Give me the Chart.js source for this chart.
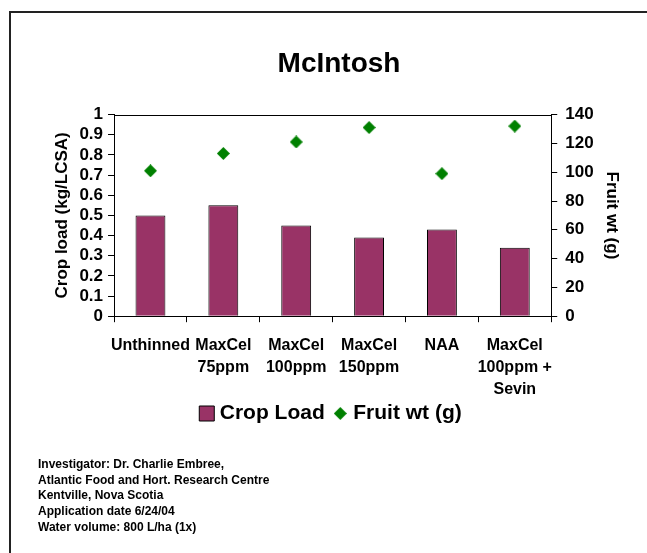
<!DOCTYPE html>
<html>
<head>
<meta charset="utf-8">
<script src="https://cdn.jsdelivr.net/npm/chart.js@4"></script>
<style>
  html, body { margin: 0; padding: 0; background: #fff; }
  body { width: 647px; height: 553px; position: relative; overflow: hidden; font-family: Arial, 'Liberation Sans', sans-serif; }
  #frame { position: absolute; left: 9px; top: 11px; right: -5px; bottom: -5px; border-left: 2px solid #222; border-top: 2px solid #222; }
  #wrap { position: absolute; left: 0; top: 0; width: 647px; height: 553px; }
  #notes { position: absolute; left: 38px; top: 457px; font-size: 12px; font-weight: bold; line-height: 15.7px; color: #000; }
</style>
</head>
<body>
<div id="frame"></div>
<div id="wrap"><canvas id="chart"></canvas></div>
<div id="notes">
  Investigator: Dr. Charlie Embree,<br>
  Atlantic Food and Hort. Research Centre<br>
  Kentville, Nova Scotia<br>
  Application date 6/24/04<br>
  Water volume: 800 L/ha (1x)
</div>
<script>
// Chart data
const treatments = [
    'Unthinned',
    ['MaxCel', '75ppm'],
    ['MaxCel', '100ppm'],
    ['MaxCel', '150ppm'],
    'NAA',
    ['MaxCel', '100ppm +', 'Sevin']
];
const cropLoad = [0.50, 0.55, 0.45, 0.39, 0.43, 0.34];
const fruitWt = [101, 113, 121, 131, 99, 132];
const cropTicks = [0, 0.1, 0.2, 0.3, 0.4, 0.5, 0.6, 0.7, 0.8, 0.9, 1];
const wtTicks = [0, 20, 40, 60, 80, 100, 120, 140];

const font = "Arial, 'Liberation Sans', sans-serif";

// Diamond marker drawn on a small canvas
const diamond = document.createElement('canvas');
diamond.width = 13;
diamond.height = 13;
(function () {
    const c = diamond.getContext('2d');
    c.fillStyle = '#008000';
    c.beginPath();
    c.moveTo(6.5, 0);
    c.lineTo(13, 6.5);
    c.lineTo(6.5, 13);
    c.lineTo(0, 6.5);
    c.closePath();
    c.fill();
})();

// top border of the plot area
const plotTop = {
    id: 'plotTop',
    afterDraw(chart) {
        const { ctx, chartArea } = chart;
        ctx.save();
        ctx.strokeStyle = '#000';
        ctx.lineWidth = 1;
        ctx.beginPath();
        ctx.moveTo(chartArea.left, Math.round(chartArea.top) + 0.5);
        ctx.lineTo(chartArea.right, Math.round(chartArea.top) + 0.5);
        ctx.stroke();
        ctx.restore();
    }
};

// move the legend up closer to the category labels
const legendNudge = {
    id: 'legendNudge',
    afterLayout(chart) {
        const lg = chart.legend;
        lg.top -= 23;
        lg.bottom -= 23;
        lg.left -= 6;
        lg.right -= 6;
    }
};

new Chart(document.getElementById('chart'), {
    type: 'bar',
    data: {
        labels: treatments,
        datasets: [{
            label: 'Crop Load',
            data: cropLoad,
            yAxisID: 'y',
            backgroundColor: '#993366',
            borderColor: '#000',
            borderWidth: 1,
            barPercentage: 0.41,
            categoryPercentage: 1,
            pointStyle: 'rect'
        }, {
            type: 'line',
            label: 'Fruit wt (g)',
            data: fruitWt,
            yAxisID: 'y2',
            showLine: false,
            pointStyle: diamond,
            backgroundColor: '#008000',
            borderColor: '#008000'
        }]
    },
    options: {
        responsive: true,
        maintainAspectRatio: false,
        animation: false,
        layout: { padding: { left: 52, right: 21, top: 47, bottom: 96 } },
        plugins: {
            title: {
                display: true,
                text: 'McIntosh',
                color: '#000',
                font: { family: font, size: 28, weight: 'bold' },
                padding: { top: 0, bottom: 34 }
            },
            legend: {
                position: 'bottom',
                labels: {
                    color: '#000',
                    font: { family: font, size: 21, weight: 'bold' },
                    usePointStyle: true,
                    boxHeight: 15,
                    boxWidth: 5,
                    padding: 13,
                    generateLabels(chart) {
                        const items = Chart.defaults.plugins.legend.labels.generateLabels(chart);
                        items[0].pointStyle = 'rect';
                        items[0].fillStyle = '#993366';
                        items[0].strokeStyle = '#000';
                        items[0].lineWidth = 1;
                        items[1].pointStyle = diamond;
                        return items;
                    }
                }
            },
            tooltip: { enabled: false }
        },
        scales: {
            x: {
                grid: { display: true, drawOnChartArea: false, color: '#000', tickLength: 6 },
                border: { color: '#000', width: 1 },
                ticks: {
                    color: '#000',
                    maxRotation: 0,
                    autoSkip: false,
                    padding: 13,
                    font: { family: font, size: 16, weight: 'bold', lineHeight: 1.35 }
                }
            },
            y: {
                position: 'left',
                min: 0,
                max: 1,
                grid: { drawOnChartArea: false, color: '#000', tickLength: 6 },
                border: { color: '#000', width: 1 },
                afterBuildTicks: scale => { scale.ticks = cropTicks.map(v => ({ value: v })); },
                ticks: {
                    autoSkip: false,
                    color: '#000',
                    padding: 5,
                    font: { family: font, size: 17, weight: 'bold', lineHeight: 1 },
                    callback: v => String(Math.round(v * 10) / 10)
                },
                title: {
                    display: true,
                    text: 'Crop load (kg/LCSA)',
                    color: '#000',
                    padding: { top: 0, bottom: 2 },
                    font: { family: font, size: 17, weight: 'bold' }
                }
            },
            y2: {
                position: 'right',
                min: 0,
                max: 140,
                grid: { drawOnChartArea: false, color: '#000', tickLength: 6 },
                border: { color: '#000', width: 1 },
                afterBuildTicks: scale => { scale.ticks = wtTicks.map(v => ({ value: v })); },
                ticks: {
                    autoSkip: false,
                    color: '#000',
                    padding: 8,
                    font: { family: font, size: 17, weight: 'bold', lineHeight: 1 }
                },
                title: {
                    display: true,
                    text: 'Fruit wt (g)',
                    color: '#000',
                    padding: { top: 4, bottom: 0 },
                    font: { family: font, size: 17, weight: 'bold' }
                }
            }
        }
    },
    plugins: [plotTop, legendNudge]
});
</script>
</body>
</html>
